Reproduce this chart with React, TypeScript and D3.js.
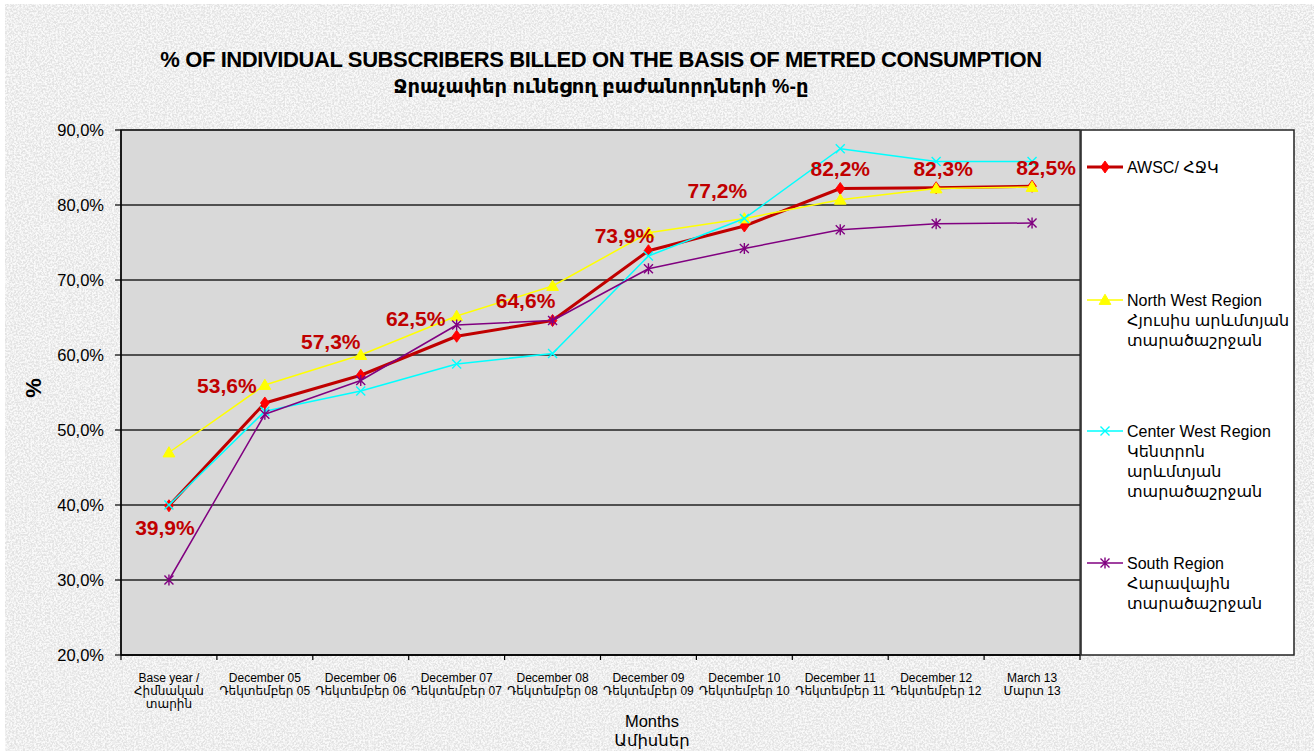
import React from 'react';
import * as d3 from 'd3';

const categories = ['Base', 'Dec05', 'Dec06', 'Dec07', 'Dec08', 'Dec09', 'Dec10', 'Dec11', 'Dec12', 'Mar13'];
const categoryLabels: string[][] = [
  ['Base year /', 'Հիմնական', 'տարին'],
  ['December 05', 'Դեկտեմբեր 05'],
  ['December 06', 'Դեկտեմբեր 06'],
  ['December 07', 'Դեկտեմբեր 07'],
  ['December 08', 'Դեկտեմբեր 08'],
  ['December 09', 'Դեկտեմբեր 09'],
  ['December 10', 'Դեկտեմբեր 10'],
  ['December 11', 'Դեկտեմբեր 11'],
  ['December 12', 'Դեկտեմբեր 12'],
  ['March 13', 'Մարտ 13'],
];
const awsc = [39.9, 53.6, 57.3, 62.5, 64.6, 73.9, 77.2, 82.2, 82.3, 82.5];
const northWest = [47.0, 56.0, 60.0, 65.2, 69.2, 76.3, 78.2, 80.7, 82.2, 82.4];
const centerWest = [40.0, 52.5, 55.2, 58.8, 60.2, 73.2, 78.2, 87.5, 85.8, 85.8];
const south = [30.0, 52.1, 56.6, 64.0, 64.6, 71.5, 74.2, 76.7, 77.5, 77.6];
const yTicks = [20, 30, 40, 50, 60, 70, 80, 90];

const legendAwsc = ['AWSC/ ՀՋԿ'];
const legendNorthWest = ['North West Region', 'Հյուսիս արևմտյան', 'տարածաշրջան'];
const legendCenterWest = ['Center West Region', 'Կենտրոն', 'արևմտյան', 'տարածաշրջան'];
const legendSouth = ['South Region', 'Հարավային', 'տարածաշրջան'];

const titleLine1 = '% OF INDIVIDUAL SUBSCRIBERS BILLED ON THE BASIS OF METRED CONSUMPTION';
const titleLine2 = 'Ջրաչափեր ունեցող բաժանորդների %-ը';

// layout: label offsets (dx, dy to baseline) relative to each AWSC point
const labelOffsets: [number, number][] = [
  [-4, 29], [-38, -10], [-30, -26], [-41, -10], [-27, -13],
  [-24, -8], [-27, -28], [0, -13], [7, -12], [14, -11],
];

const FONT = "'Liberation Sans', Arial, 'DejaVu Sans', sans-serif";

type MarkerKind = 'diamond' | 'triangle' | 'x' | 'star';

function Marker({ kind, x, y, color }: { kind: MarkerKind; x: number; y: number; color: string }) {
  if (kind === 'diamond') {
    const p = d3.symbol().type(d3.symbolDiamond).size(42)();
    return <path d={p || ''} transform={`translate(${x},${y}) scale(1.25,1)`} fill={color} stroke={color} strokeWidth={0.8} />;
  }
  if (kind === 'triangle') {
    const p = d3.symbol().type(d3.symbolTriangle).size(60)();
    return <path d={p || ''} transform={`translate(${x},${y + 1})`} fill={color} stroke={color} strokeWidth={1} />;
  }
  const s = 4.5;
  if (kind === 'x') {
    return (
      <path d={`M${x - s},${y - s}L${x + s},${y + s}M${x - s},${y + s}L${x + s},${y - s}`} stroke={color} strokeWidth={1.4} fill="none" />
    );
  }
  return (
    <path
      d={`M${x - s},${y - s}L${x + s},${y + s}M${x - s},${y + s}L${x + s},${y - s}M${x},${y - s - 1}L${x},${y + s + 1}`}
      stroke={color}
      strokeWidth={1.4}
      fill="none"
    />
  );
}

export default function App() {
  const W = 1314;
  const H = 751;
  const plotL = 121;
  const plotR = 1080;
  const plotT = 130;
  const plotB = 655;

  const x = d3.scaleBand<string>().domain(categories).range([plotL, plotR]);
  const y = d3.scaleLinear().domain([20, 90]).range([plotB, plotT]);
  const cx = (i: number) => (x(categories[i]) as number) + x.bandwidth() / 2;

  const line = d3
    .line<number>()
    .x((_, i) => cx(i))
    .y((d) => y(d));

  const series: { values: number[]; color: string; marker: string; width: number; kind: MarkerKind; legend: string[] }[] = [
    { values: awsc, color: '#C00000', marker: '#FF0000', width: 3, kind: 'diamond', legend: legendAwsc },
    { values: northWest, color: '#FFFF00', marker: '#FFFF00', width: 1.5, kind: 'triangle', legend: legendNorthWest },
    { values: centerWest, color: '#00FFFF', marker: '#00FFFF', width: 1.5, kind: 'x', legend: legendCenterWest },
    { values: south, color: '#800080', marker: '#800080', width: 1.5, kind: 'star', legend: legendSouth },
  ];

  const legendY = [167, 300, 431, 563];
  const fmt = (v: number) => d3.format('.1f')(v).replace('.', ',') + '%';

  return (
    <svg width={W} height={H} style={{ position: 'absolute', left: 0, top: 0, background: '#ffffff' }} fontFamily={FONT}>
      <defs>
        <filter id="paper" x="0" y="0" width="100%" height="100%">
          <feTurbulence type="fractalNoise" baseFrequency="0.55" numOctaves="3" seed="5" result="n" />
          <feColorMatrix in="n" type="matrix" values="0 0 0 0 1  0 0 0 0 1  0 0 0 0 1  0 0 0 -3 2.0" />
        </filter>
      </defs>
      <rect x={5} y={4} width={W - 5} height={H - 4} fill="#e2e2e2" />
      <rect x={5} y={4} width={W - 5} height={H - 4} filter="url(#paper)" opacity={0.85} />

      {/* Title */}
      <text x={601} y={67} textAnchor="middle" fontSize={22} fontWeight="bold" letterSpacing={-0.4} fill="#000">
        {titleLine1}
      </text>
      <text x={601} y={93} textAnchor="middle" fontSize={19.5} fontWeight="bold" fill="#000">
        {titleLine2}
      </text>

      {/* Plot area */}
      <rect x={plotL} y={plotT} width={plotR - plotL} height={plotB - plotT} fill="#D9D9D9" stroke="#444" strokeWidth={1.5} />
      {yTicks.map((t) => (
        <g key={t}>
          <line x1={plotL} x2={plotR} y1={y(t)} y2={y(t)} stroke="#222" strokeWidth={1.5} />
          <line x1={plotL - 6} x2={plotL} y1={y(t)} y2={y(t)} stroke="#000" strokeWidth={1.2} />
          <text x={104} y={y(t) + 6} textAnchor="end" fontSize={16.5} fill="#000">
            {d3.format('.1f')(t).replace('.', ',') + '%'}
          </text>
        </g>
      ))}
      <line x1={plotL} x2={plotL} y1={plotT} y2={plotB} stroke="#000" strokeWidth={1.5} />
      <line x1={plotL} x2={plotR} y1={plotB} y2={plotB} stroke="#000" strokeWidth={1.5} />
      {categories.map((c) => (
        <line key={c} x1={x(c) as number} x2={x(c) as number} y1={plotB} y2={plotB + 5} stroke="#000" strokeWidth={1.2} />
      ))}
      <line x1={plotR} x2={plotR} y1={plotB} y2={plotB + 5} stroke="#000" strokeWidth={1.2} />

      {/* X labels */}
      {categoryLabels.map((lines, i) => (
        <text key={i} x={cx(i)} y={682} textAnchor="middle" fontSize={12} fill="#000">
          {lines.map((l, j) => (
            <tspan key={j} x={cx(i)} dy={j === 0 ? 0 : 13}>
              {l}
            </tspan>
          ))}
        </text>
      ))}
      <text x={652} y={727} textAnchor="middle" fontSize={16.5} fill="#000">
        Months
      </text>
      <text x={652} y={746} textAnchor="middle" fontSize={16.5} fill="#000">
        Ամիսներ
      </text>

      <text transform="translate(41,388) rotate(-90)" textAnchor="middle" fontSize={22} fontWeight="bold" fill="#000">
        %
      </text>

      {/* Series */}
      {series.map((s, si) => (
        <g key={si}>
          <path d={line(s.values) || ''} fill="none" stroke={s.color} strokeWidth={s.width} strokeLinejoin="round" />
          {s.values.map((v, i) => (
            <Marker key={i} kind={s.kind} x={cx(i)} y={y(v)} color={s.marker} />
          ))}
        </g>
      ))}

      {/* Data labels */}
      {awsc.map((v, i) => (
        <text
          key={i}
          x={cx(i) + labelOffsets[i][0]}
          y={y(v) + labelOffsets[i][1]}
          textAnchor="middle"
          fontSize={21}
          fontWeight="bold"
          fill="#C00000"
        >
          {fmt(v)}
        </text>
      ))}

      {/* Legend */}
      <rect x={1081} y={plotT} width={213} height={plotB - plotT} fill="#ffffff" stroke="#222" strokeWidth={1.5} />
      {series.map((s, si) => (
        <g key={si}>
          <line x1={1087} x2={1123} y1={legendY[si]} y2={legendY[si]} stroke={s.color} strokeWidth={s.width} />
          <Marker kind={s.kind} x={1105} y={legendY[si]} color={s.marker} />
          <text x={1127} y={legendY[si] + 6} fontSize={16} fill="#000">
            {s.legend.map((l, j) => (
              <tspan key={j} x={1127} dy={j === 0 ? 0 : 20}>
                {l}
              </tspan>
            ))}
          </text>
        </g>
      ))}
    </svg>
  );
}
